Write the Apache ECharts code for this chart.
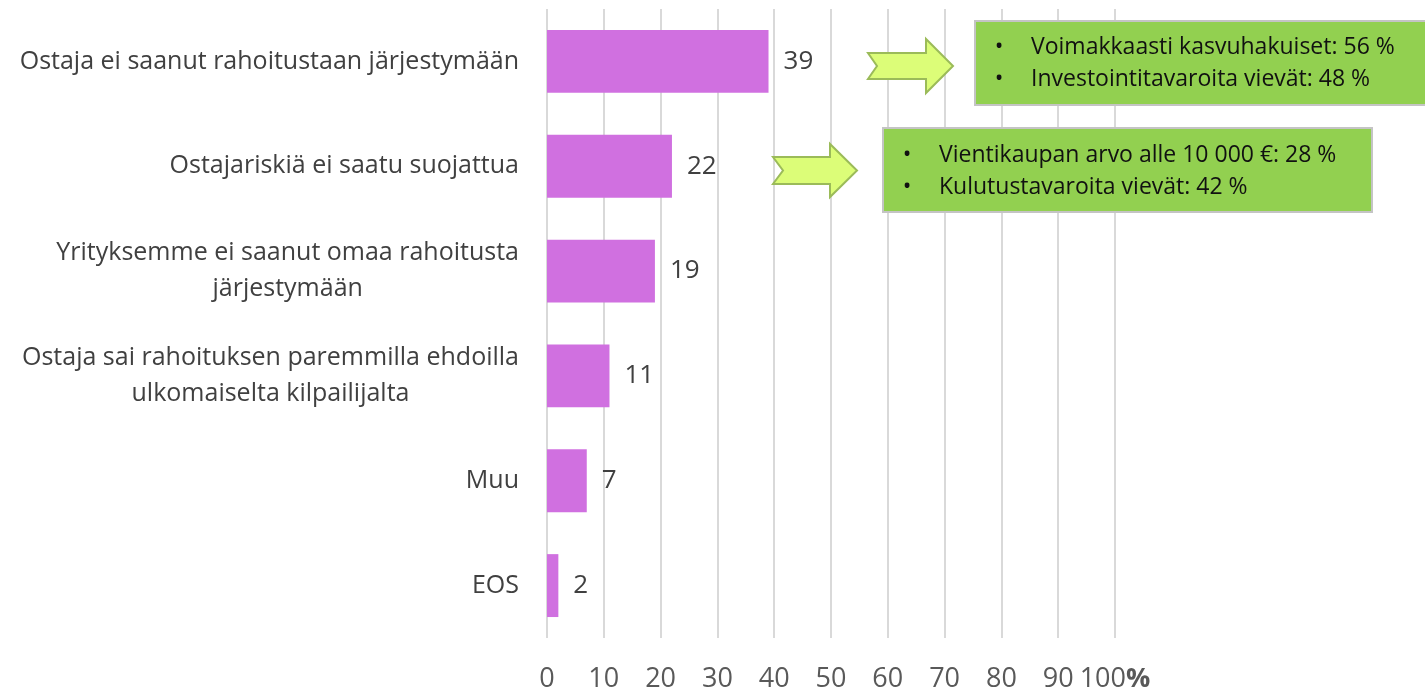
<!DOCTYPE html>
<html lang="fi">
<head>
    <meta charset="UTF-8">
    <script src="https://cdn.jsdelivr.net/npm/echarts@6/dist/echarts.min.js"></script>
    <title>Syyt</title>
    <style>
        html, body { margin: 0; padding: 0; background: #fff; }
        #main { width: 1425px; height: 687px; }
    </style>
</head>
<body>
<div id="main"></div>
<script type="text/javascript">
    // data
    var categories = [
        'Ostaja ei saanut rahoitustaan järjestymään',
        'Ostajariskiä ei saatu suojattua',
        'Yrityksemme ei saanut omaa rahoitusta\njärjestymään',
        'Ostaja sai rahoituksen paremmilla ehdoilla\nulkomaiselta kilpailijalta',
        'Muu',
        'EOS'
    ];
    var values = [39, 22, 19, 11, 7, 2];
    var axisTicks = [0, 10, 20, 30, 40, 50, 60, 70, 80, 90, 100];
    var box1Lines = ['Voimakkaasti kasvuhakuiset: 56 %', 'Investointitavaroita vievät: 48 %'];
    var box2Lines = ['Vientikaupan arvo alle 10 000 €: 28 %', 'Kulutustavaroita vievät: 42 %'];

    var FONT = '"Open Sans", "Noto Sans", sans-serif';

    var myChart = echarts.init(document.getElementById('main'));

    // callout shapes (arrows + green boxes)
    function arrow(x0, yTop, yHeadTop, xHead, xTip, notch) {
        var yMid = yTop + (yHeadTop.b - yTop) / 2;
        return {
            type: 'polygon',
            z: 10,
            shape: {
                points: [
                    [x0, yTop], [xHead, yTop], [xHead, yHeadTop.t], [xTip, yMid],
                    [xHead, yHeadTop.hb], [xHead, yHeadTop.b], [x0, yHeadTop.b], [x0 + notch, yMid]
                ]
            },
            style: { fill: '#dcfd78', stroke: '#9bbb59', lineWidth: 2 }
        };
    }

    function box(x, y, w, h, lines, bulletX, textX, lineY) {
        var els = [{
            type: 'rect',
            z: 10,
            shape: { x: x, y: y, width: w, height: h },
            style: { fill: '#92d050', stroke: '#c4c4c4', lineWidth: 2 }
        }];
        lines.forEach(function (t, i) {
            els.push({
                type: 'text', z: 11, x: bulletX, y: lineY[i],
                style: { text: '•', font: '23px ' + FONT, fill: '#111', verticalAlign: 'middle', align: 'center' }
            });
            els.push({
                type: 'text', z: 11, x: textX, y: lineY[i],
                style: { text: t, font: '23px ' + FONT, fill: '#111', verticalAlign: 'middle' }
            });
        });
        return els;
    }

    var graphics = [
        arrow(868, 53, { t: 39, hb: 93, b: 79 }, 926, 953, 9),
        arrow(773, 157, { t: 144, hb: 197, b: 184 }, 830, 857, 10)
    ];
    graphics = graphics.concat(box(975, 21, 460, 84, box1Lines, 999, 1031, [47, 79]));
    graphics = graphics.concat(box(883, 128, 489, 84, box2Lines, 907, 939, [155, 187]));

    var option = {
        animation: false,
        grid: {
            left: 547,
            right: 310,
            top: 9,
            bottom: 49,
            containLabel: false,
            outerBoundsMode: 'none'
        },
        xAxis: {
            type: 'value',
            min: 0,
            max: 100,
            interval: 10,
            axisLine: { show: false },
            axisTick: { show: false },
            splitLine: { show: true, lineStyle: { color: '#d9d9d9', width: 2 } },
            axisLabel: {
                margin: 28,
                color: '#595959',
                fontFamily: FONT,
                fontSize: 27,
                formatter: function (v) {
                    return v === axisTicks[axisTicks.length - 1] ? '{n|' + v + '}{b|%}' : String(v);
                },
                rich: {
                    n: { color: '#595959', fontFamily: FONT, fontSize: 27 },
                    b: { color: '#595959', fontFamily: FONT, fontSize: 27, fontWeight: 'bold' }
                }
            }
        },
        yAxis: {
            type: 'category',
            inverse: true,
            data: categories,
            axisLine: { show: false },
            axisTick: { show: false },
            axisLabel: {
                margin: 28,
                color: '#404040',
                fontFamily: FONT,
                fontSize: 25,
                lineHeight: 36,
                align: 'right',
                formatter: function (v) {
                    return v.split('\n').map(function (s) { return '{c|' + s + '}'; }).join('\n');
                },
                rich: {
                    c: { align: 'center', color: '#404040', fontFamily: FONT, fontSize: 25, lineHeight: 36 }
                }
            }
        },
        series: [{
            type: 'bar',
            data: values,
            barWidth: '60%',
            itemStyle: { color: '#d070e0' },
            label: {
                show: true,
                position: 'right',
                distance: 15,
                color: '#404040',
                fontFamily: FONT,
                fontSize: 26
            }
        }],
        graphic: graphics
    };

    myChart.setOption(option);
</script>
</body>
</html>
